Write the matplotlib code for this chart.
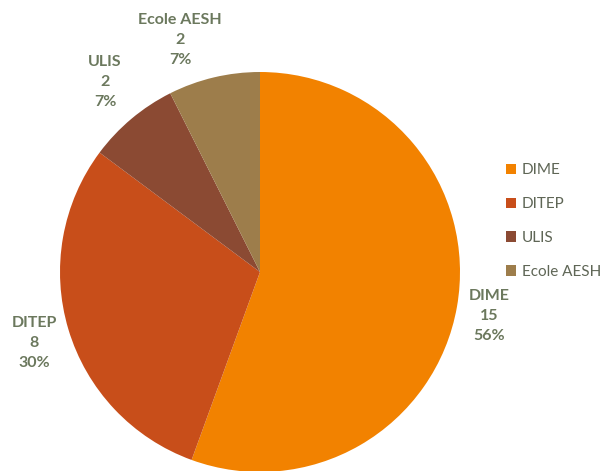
import matplotlib
matplotlib.use("Agg")
import matplotlib.pyplot as plt

categories = ["DIME", "DITEP", "ULIS", "Ecole AESH"]
values = [15, 8, 2, 2]
colors = ["#F28200", "#C84E1A", "#8B4A33", "#9D7D4B"]
label_pos = [(1.145, -0.22), (-1.13, -0.355), (-0.775, 0.95), (-0.40, 1.16)]
text_color = "#6B785D"

plt.rcParams['font.family'] = ['Lato', 'DejaVu Sans']

W, H = 602, 471
fig = plt.figure(figsize=(W / 100, H / 100), dpi=100)
cx, cy, r = 260, 471 - 272, 200
ax = fig.add_axes([(cx - r) / W, (cy - r) / H, 2 * r / W, 2 * r / H])
wedges, _ = ax.pie(values, colors=colors, startangle=90, counterclock=False,
                   radius=1, wedgeprops=dict(linewidth=0))
ax.set_xlim(-1, 1)
ax.set_ylim(-1, 1)
ax.set_aspect('equal')
ax.axis('off')

total = sum(values)
for cat, v, (x, y) in zip(categories, values, label_pos):
    ax.text(x, y, f"{cat}\n{v}\n{round(100 * v / total)}%", ha='center', va='center',
            fontsize=11.5, fontweight='bold', color=text_color, linespacing=1.55,
            clip_on=False)

leg = fig.legend(wedges, categories, loc='upper left',
                 bbox_to_anchor=(494 / W, 1 - 151 / H), frameon=False,
                 fontsize=11, handlelength=0.65, handleheight=0.65,
                 handletextpad=0.35, labelspacing=1.3, borderpad=0.3)
for t in leg.get_texts():
    t.set_color("#5F6656")

fig.savefig("out.png", dpi=100)
